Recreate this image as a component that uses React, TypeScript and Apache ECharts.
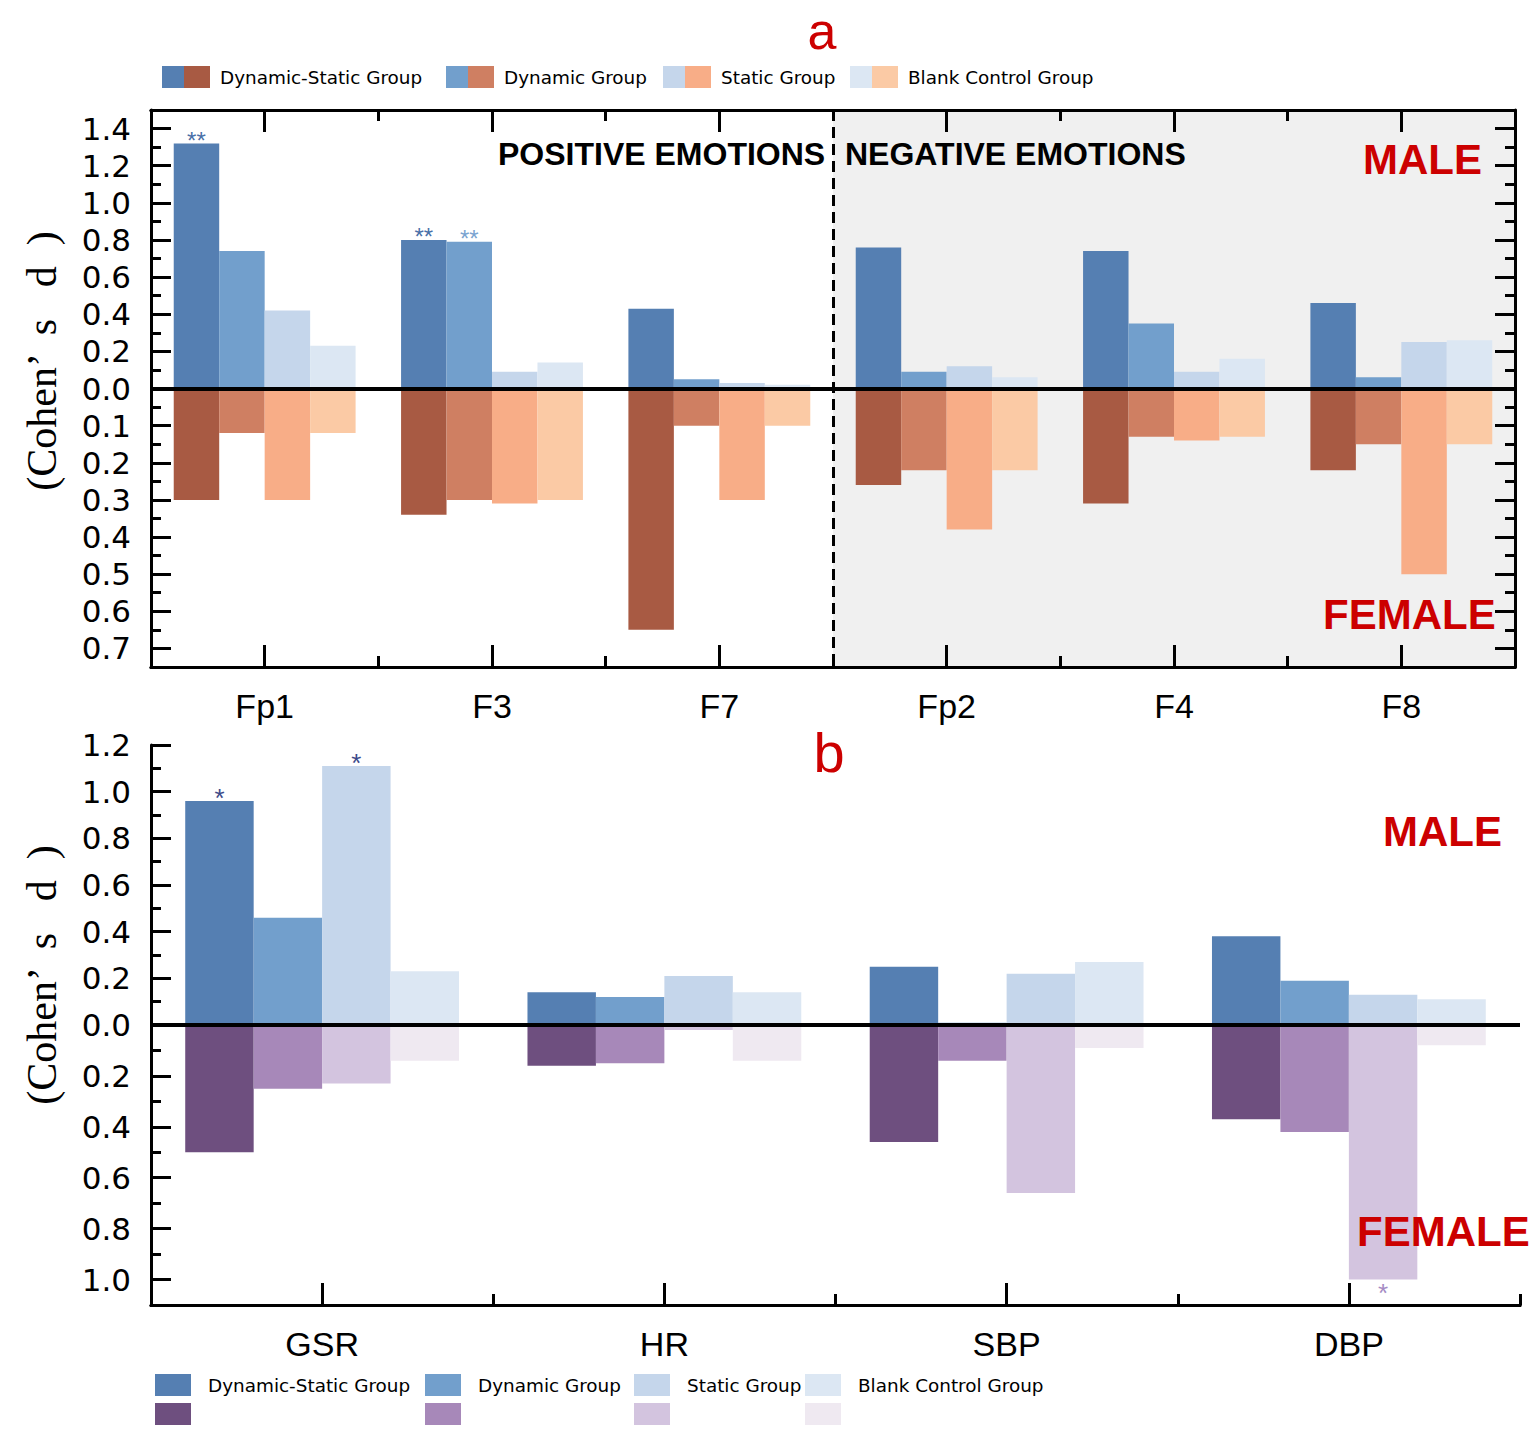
import React, { useEffect, useRef } from 'react';
import * as echarts from 'echarts';

// ---------- data ----------
const groupNames = ['Dynamic-Static Group', 'Dynamic Group', 'Static Group', 'Blank Control Group'];

const eegCategories = ['Fp1', 'F3', 'F7', 'Fp2', 'F4', 'F8'];
const eegMaleDynamicStatic = [1.32, 0.80, 0.43, 0.76, 0.74, 0.46];
const eegMaleDynamic = [0.74, 0.79, 0.05, 0.09, 0.35, 0.06];
const eegMaleStatic = [0.42, 0.09, 0.03, 0.12, 0.09, 0.25];
const eegMaleBlank = [0.23, 0.14, 0.02, 0.06, 0.16, 0.26];
const eegFemaleDynamicStatic = [0.30, 0.34, 0.65, 0.26, 0.31, 0.22];
const eegFemaleDynamic = [0.12, 0.30, 0.10, 0.22, 0.13, 0.15];
const eegFemaleStatic = [0.30, 0.31, 0.30, 0.38, 0.14, 0.50];
const eegFemaleBlank = [0.12, 0.30, 0.10, 0.22, 0.13, 0.15];
const eegMaleDynamicStaticSig = ['**', '**', '', '', '', ''];
const eegMaleDynamicSig = ['', '**', '', '', '', ''];
const eegNoSig = ['', '', '', '', '', ''];

const physioCategories = ['GSR', 'HR', 'SBP', 'DBP'];
const physioMaleDynamicStatic = [0.96, 0.14, 0.25, 0.38];
const physioMaleDynamic = [0.46, 0.12, 0.01, 0.19];
const physioMaleStatic = [1.11, 0.21, 0.22, 0.13];
const physioMaleBlank = [0.23, 0.14, 0.27, 0.11];
const physioFemaleDynamicStatic = [0.50, 0.16, 0.46, 0.37];
const physioFemaleDynamic = [0.25, 0.15, 0.14, 0.42];
const physioFemaleStatic = [0.23, 0.02, 0.66, 1.00];
const physioFemaleBlank = [0.14, 0.14, 0.09, 0.08];
const physioMaleDynamicStaticSig = ['*', '', '', ''];
const physioMaleStaticSig = ['*', '', '', ''];
const physioFemaleStaticSig = ['', '', '', '*'];
const physioNoSig = ['', '', '', ''];

// tick values (male side upward, female side downward)
const eegMaleTicks = [0, 0.2, 0.4, 0.6, 0.8, 1.0, 1.2, 1.4];
const eegMaleMinorTicks = [0.1, 0.3, 0.5, 0.7, 0.9, 1.1, 1.3];
const eegFemaleTicks = [0.1, 0.2, 0.3, 0.4, 0.5, 0.6, 0.7];
const eegFemaleMinorTicks = [0.05, 0.15, 0.25, 0.35, 0.45, 0.55, 0.65];
const physioMaleTicks = [0, 0.2, 0.4, 0.6, 0.8, 1.0, 1.2];
const physioMaleMinorTicks = [0.1, 0.3, 0.5, 0.7, 0.9, 1.1];
const physioFemaleTicks = [0.2, 0.4, 0.6, 0.8, 1.0];
const physioFemaleMinorTicks = [0.1, 0.3, 0.5, 0.7, 0.9];

// female half of each panel uses its own scale
const EEG_MALE_MAX = 1.5;
const EEG_FEMALE_MAX = 0.75;
const PHYSIO_MALE_MAX = 1.2;
const PHYSIO_FEMALE_MAX = 1.1;

// ---------- styles ----------
const eegMaleColors = ['#557fb2', '#729fcc', '#c5d6eb', '#dce7f3'];
const eegFemaleColors = ['#a85a43', '#cf7f62', '#f8ad87', '#fbcaa5'];
const physioMaleColors = ['#557fb2', '#729fcc', '#c5d6eb', '#dce7f3'];
const physioFemaleColors = ['#6e4f7f', '#a788b9', '#d3c4df', '#efe9f1'];
const RED = '#cc0000';
const TICK_FONT = 'DejaVu Sans';
const SANS = 'Liberation Sans, Arial, sans-serif';

export default function App() {
  const ref = useRef<HTMLDivElement>(null);

  useEffect(() => {
    document.body.style.margin = '0';
    if (!ref.current) return;
    const chart = echarts.init(ref.current, undefined, { renderer: 'svg' });

    const eegFemaleK = EEG_MALE_MAX / EEG_FEMALE_MAX;
    const physioFemaleK = PHYSIO_MALE_MAX / PHYSIO_FEMALE_MAX;

    const eegMajor = [...eegFemaleTicks.map((v) => -v * eegFemaleK).reverse(), ...eegMaleTicks];
    const eegMinor = [...eegFemaleMinorTicks.map((v) => -v * eegFemaleK).reverse(), ...eegMaleMinorTicks];
    const physioMajor = [...physioFemaleTicks.map((v) => -v * physioFemaleK).reverse(), ...physioMaleTicks];
    const physioMinor = [...physioFemaleMinorTicks.map((v) => -v * physioFemaleK).reverse(), ...physioMaleMinorTicks];

    const eegMale = [eegMaleDynamicStatic, eegMaleDynamic, eegMaleStatic, eegMaleBlank];
    const eegFemale = [eegFemaleDynamicStatic, eegFemaleDynamic, eegFemaleStatic, eegFemaleBlank];
    const eegMaleSig = [eegMaleDynamicStaticSig, eegMaleDynamicSig, eegNoSig, eegNoSig];
    const physioMale = [physioMaleDynamicStatic, physioMaleDynamic, physioMaleStatic, physioMaleBlank];
    const physioFemale = [physioFemaleDynamicStatic, physioFemaleDynamic, physioFemaleStatic, physioFemaleBlank];
    const physioMaleSig = [physioMaleDynamicStaticSig, physioNoSig, physioMaleStaticSig, physioNoSig];
    const physioFemaleSig = [physioNoSig, physioNoSig, physioFemaleStaticSig, physioNoSig];

    const eegMaleNames = groupNames.map((g) => 'EEG male ' + g);
    const eegFemaleNames = groupNames.map((g) => 'EEG female ' + g);
    const phMaleNames = groupNames.map((g) => 'Physio male ' + g);
    const phFemaleNames = groupNames.map((g) => 'Physio female ' + g);

    const eegSigColors = ['#4a70a8', '#7aa3d0', '#4a70a8', '#4a70a8'];

    const mkBar = (
      name: string, values: number[], k: number, color: string, stack: string,
      xi: number, yi: number, sig: string[], sigColor: string, pos: string, dist: number, sigSize: number,
    ) => ({
      name, type: 'bar', xAxisIndex: xi, yAxisIndex: yi, stack,
      barCategoryGap: '20%', barGap: '0%',
      itemStyle: { color },
      emphasis: { disabled: true },
      label: { show: false },
      data: values.map((v, j) => ({
        value: v * k,
        label: sig[j]
          ? { show: true, formatter: sig[j], position: pos, distance: dist, color: sigColor, fontSize: sigSize, fontFamily: SANS }
          : { show: false },
      })),
    });

    const series: any[] = [];
    for (let i = 0; i < 4; i++) {
      series.push(mkBar(eegMaleNames[i], eegMale[i], 1, eegMaleColors[i], 'eeg' + i, 0, 0, eegMaleSig[i], eegSigColors[i], 'top', -9, 24));
      series.push(mkBar(eegFemaleNames[i], eegFemale[i], -eegFemaleK, eegFemaleColors[i], 'eeg' + i, 0, 0, eegNoSig, '#000', 'bottom', 2, 24));
    }
    for (let i = 0; i < 4; i++) {
      series.push(mkBar(phMaleNames[i], physioMale[i], 1, physioMaleColors[i], 'ph' + i, 4, 4, physioMaleSig[i], '#3d4a8a', 'top', -10, 26));
      series.push(mkBar(phFemaleNames[i], physioFemale[i], -physioFemaleK, physioFemaleColors[i], 'ph' + i, 4, 4, physioFemaleSig[i], '#a58bc4', 'bottom', 0, 26));
    }
    const zeroLine = {
      symbol: 'none', silent: true, label: { show: false },
      lineStyle: { color: '#000', width: 4, type: 'solid' },
      data: [{ yAxis: 0 }],
    };
    series[0].markLine = zeroLine;
    series[8].markLine = zeroLine;

    const black = { color: '#000', width: 3 };
    const catAxis = (grid: number, data: string[], position: string, center: boolean, len: number, labels: boolean, extra: any = {}) => ({
      type: 'category', gridIndex: grid, data, position,
      axisLine: { show: true, onZero: false, lineStyle: black },
      axisTick: { show: true, inside: true, alignWithLabel: center, length: len, lineStyle: black },
      axisLabel: labels
        ? { show: true, fontSize: 34, color: '#000', fontFamily: SANS, margin: 22 }
        : { show: false },
      splitLine: { show: false },
      ...extra,
    });
    const valAxis = (grid: number, position: string, min: number, max: number, ticks: number[], len: number, line: boolean, labels: boolean, fmt?: (v: number) => string) => ({
      type: 'value', gridIndex: grid, position, min, max,
      axisLine: { show: line, onZero: false, lineStyle: black },
      axisTick: { show: true, inside: true, length: len, lineStyle: black, customValues: ticks },
      axisLabel: labels
        ? { show: true, customValues: ticks, formatter: fmt, fontSize: 31, color: '#000', fontFamily: TICK_FONT, margin: 20 }
        : { show: false },
      splitLine: { show: false },
    });

    const eegFmt = (v: number) => (v >= 0 ? v : -v / eegFemaleK).toFixed(1);
    const phFmt = (v: number) => (v >= 0 ? v : -v / physioFemaleK).toFixed(1);

    const xAxis = [
      catAxis(0, eegCategories, 'bottom', true, 22, true),
      catAxis(0, eegCategories, 'bottom', false, 11, false, {
        splitArea: { show: true, interval: (i: number) => i === 0 || i === 3, areaStyle: { color: ['rgba(0,0,0,0)', '#f0f0f0'] } },
        splitLine: { show: true, interval: (i: number) => i === 0 || i === 3, lineStyle: { color: '#000', width: 3, type: [11, 6] } },
      }),
      catAxis(0, eegCategories, 'top', true, 22, false),
      catAxis(0, eegCategories, 'top', false, 11, false),
      catAxis(1, physioCategories, 'bottom', true, 22, true),
      catAxis(1, physioCategories, 'bottom', false, 11, false),
    ];
    const yAxis = [
      valAxis(0, 'left', -EEG_MALE_MAX, EEG_MALE_MAX, eegMajor, 20, true, true, eegFmt),
      valAxis(0, 'left', -EEG_MALE_MAX, EEG_MALE_MAX, eegMinor, 10, false, false),
      valAxis(0, 'right', -EEG_MALE_MAX, EEG_MALE_MAX, eegMajor, 20, true, false),
      valAxis(0, 'right', -EEG_MALE_MAX, EEG_MALE_MAX, eegMinor, 10, false, false),
      valAxis(1, 'left', -PHYSIO_MALE_MAX, PHYSIO_MALE_MAX, physioMajor, 20, true, true, phFmt),
      valAxis(1, 'left', -PHYSIO_MALE_MAX, PHYSIO_MALE_MAX, physioMinor, 10, false, false),
    ];

    const legendA = groupNames.map((g, i) => ({
      left: [162, 446, 663, 850][i], top: 66, orient: 'horizontal', itemGap: -4, padding: 0,
      itemWidth: 26, itemHeight: 22, icon: 'rect', selectedMode: false,
      data: [eegMaleNames[i], eegFemaleNames[i]],
      formatter: (n: string) => (n === eegFemaleNames[i] ? g : ''),
      textStyle: { fontSize: 18.4, color: '#000', fontFamily: TICK_FONT, padding: [0, 0, 0, 5] },
    }));
    const legendB = groupNames.map((g, i) => ({
      left: [155, 425, 634, 805][i], top: 1374, orient: 'vertical', itemGap: 7, padding: 0,
      itemWidth: 36, itemHeight: 22, icon: 'rect', selectedMode: false,
      data: [phMaleNames[i], phFemaleNames[i]],
      formatter: (n: string) => (n === phMaleNames[i] ? g : ''),
      textStyle: { fontSize: 18.4, color: '#000', fontFamily: TICK_FONT, padding: [2, 0, 0, 12] },
    }));

    const txt = (text: string, x: number, y: number, size: number, color: string, bold: boolean, align = 'left') => ({
      type: 'text', x, y, silent: true, z: 100,
      style: { text, fill: color, fontSize: size, fontWeight: bold ? 'bold' : 'normal', fontFamily: SANS, textAlign: align, textVerticalAlign: 'middle' },
    });

    const yTitle = '(Cohen’  s   d  )';
    const graphic = [
      txt('a', 822, 31, 52, RED, false, 'center'),
      txt('b', 829, 752, 56, RED, false, 'center'),
      txt('POSITIVE EMOTIONS', 498, 154, 32, '#000', true),
      txt('NEGATIVE EMOTIONS', 845, 154, 32, '#000', true),
      txt('MALE', 1363, 159, 42, RED, true),
      txt('FEMALE', 1323, 614, 42, RED, true),
      txt('MALE', 1383, 831, 42, RED, true),
      txt('FEMALE', 1357, 1231, 42, RED, true),
      {
        type: 'text', x: 42, y: 361, rotation: Math.PI / 2, silent: true,
        style: { text: yTitle, fill: '#000', fontSize: 42, fontFamily: 'Liberation Serif, serif', textAlign: 'center', textVerticalAlign: 'middle' },
      },
      {
        type: 'text', x: 42, y: 975, rotation: Math.PI / 2, silent: true,
        style: { text: yTitle, fill: '#000', fontSize: 42, fontFamily: 'Liberation Serif, serif', textAlign: 'center', textVerticalAlign: 'middle' },
      },
    ];

    chart.setOption({
      animation: false,
      backgroundColor: '#ffffff',
      grid: [
        { left: 151, top: 110, width: 1364, height: 557 },
        { left: 151, top: 745, width: 1369, height: 560 },
      ],
      legend: [...legendA, ...legendB],
      xAxis,
      yAxis,
      series,
      graphic,
    });

    return () => chart.dispose();
  }, []);

  return <div ref={ref} style={{ width: 1536, height: 1433 }} />;
}
